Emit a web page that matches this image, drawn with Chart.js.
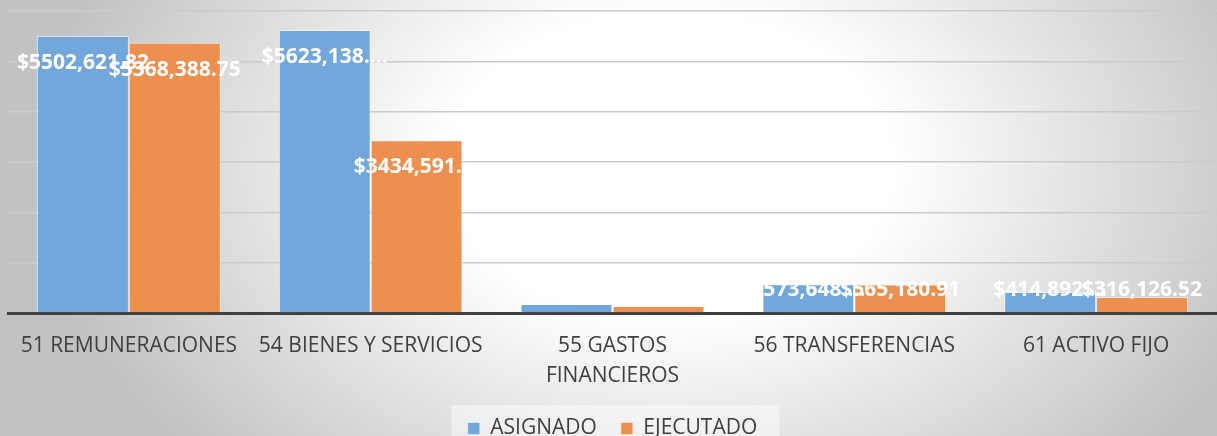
<!DOCTYPE html>
<html>
<head>
<meta charset="UTF-8">
<script src="https://cdn.jsdelivr.net/npm/chart.js@4/dist/chart.umd.min.js"></script>
<style>
  html, body { margin: 0; padding: 0; overflow: hidden; }
  body {
    width: 1217px; height: 436px;
    background: radial-gradient(ellipse 52% 100% at 55% 38%, #ffffff 35%, #c2c2c2 100%);
  }
  #wrap { position: relative; width: 1217px; height: 449px; }
</style>
</head>
<body>
<div id="wrap"><canvas id="myChart"></canvas></div>
<script>
// categories and series
var categorias = ["51 REMUNERACIONES", "54 BIENES Y SERVICIOS", ["55 GASTOS", "FINANCIEROS"], "56 TRANSFERENCIAS", "61 ACTIVO FIJO"];
var asignado = [5502621.82, 5623138.00, 180000.00, 573648.00, 414892.00];
var ejecutado = [5368388.75, 3434591.00, 140000.00, 565180.91, 316126.52];
// 55 GASTOS FINANCIEROS shows no value label in the picture
var etiquetasAsignado = ["$5502,621.82", "$5623,138.\u2026", "", "$573,648.\u2026", "$414,892.\u2026"];
var etiquetasEjecutado = ["$5368,388.75", "$3434,591.\u2026", "", "$565,180.91", "$316,126.52"];

// draws the value labels inside the end of each bar
var valueLabels = {
  id: "valueLabels",
  afterDatasetsDraw: function (chart) {
    var ctx = chart.ctx;
    var base = chart.scales.y.getPixelForValue(0);
    var textos = [etiquetasAsignado, etiquetasEjecutado];
    ctx.save();
    ctx.font = "bold 21px 'Open Sans', sans-serif";
    ctx.fillStyle = "#ffffff";
    ctx.textAlign = "center";
    ctx.textBaseline = "middle";
    chart.data.datasets.forEach(function (ds, i) {
      chart.getDatasetMeta(i).data.forEach(function (bar, j) {
        var y = Math.min(bar.y + 27, base - 23);
        ctx.fillText(textos[i][j], bar.x, y);
      });
    });
    ctx.restore();
  }
};

// light box behind the legend
var legendBox = {
  id: "legendBox",
  beforeDraw: function (chart) {
    var l = chart.legend;
    if (!l) return;
    var ctx = chart.ctx;
    var w = 328;
    var x = (chart.width - w) / 2 + 7;
    ctx.save();
    ctx.fillStyle = "rgba(255,255,255,0.45)";
    ctx.fillRect(x, 405, w, 40);
    ctx.restore();
  }
};

new Chart("myChart", {
  type: "bar",
  data: {
    labels: categorias,
    datasets: [
      {
        label: "ASIGNADO",
        data: asignado,
        backgroundColor: "rgb(113,167,219)",
        borderColor: "rgba(255,255,255,0.45)",
        borderWidth: 1
      },
      {
        label: "EJECUTADO",
        data: ejecutado,
        backgroundColor: "rgb(237,143,78)",
        borderColor: "rgba(255,255,255,0.45)",
        borderWidth: 1
      }
    ]
  },
  options: {
    responsive: true,
    maintainAspectRatio: false,
    animation: false,
    layout: { padding: { top: 11, left: 8, right: 0, bottom: 0 } },
    datasets: { bar: { barPercentage: 1, categoryPercentage: 0.76 } },
    plugins: {
      tooltip: { enabled: false },
      legend: {
        position: "bottom",
        labels: {
          boxWidth: 12,
          boxHeight: 12,
          padding: 24,
          color: "#404040",
          font: { family: "'Open Sans', sans-serif", size: 21 }
        }
      }
    },
    scales: {
      x: {
        grid: { display: false },
        border: { color: "#404040", width: 3 },
        ticks: {
          color: "#404040",
          padding: 10,
          maxRotation: 0,
          autoSkip: false,
          font: { family: "'Open Sans', sans-serif", size: 21, lineHeight: 1.43 }
        },
        afterFit: function (scale) { scale.height = 81; }
      },
      y: {
        min: 0,
        max: 6000000,
        ticks: { display: false, stepSize: 1000000 },
        border: { display: false },
        grid: { color: "#cbcbcb", lineWidth: 1.5, drawTicks: false },
        afterFit: function (scale) { scale.width = 0; }
      }
    }
  },
  plugins: [legendBox, valueLabels]
});
</script>
</body>
</html>
